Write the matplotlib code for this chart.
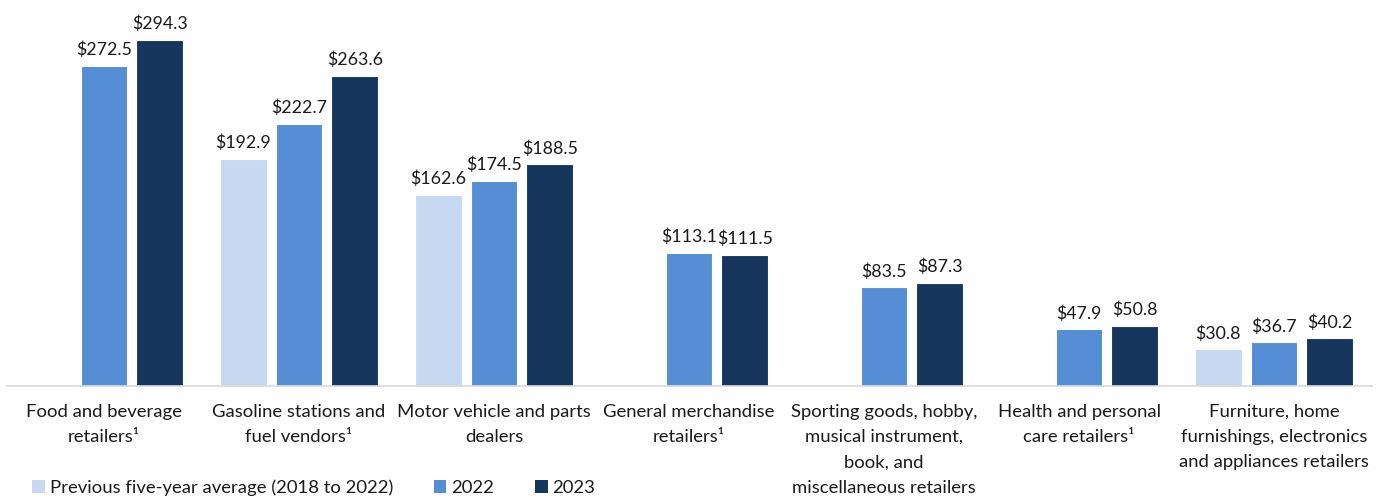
import numpy as np
import matplotlib
matplotlib.use("Agg")
import matplotlib.pyplot as plt
from matplotlib.patches import Patch

plt.rcParams['font.family'] = ['Lato', 'DejaVu Sans']

categories = [
    "Food and beverage\nretailers\u00b9",
    "Gasoline stations and\nfuel vendors\u00b9",
    "Motor vehicle and parts\ndealers",
    "General merchandise\nretailers\u00b9",
    "Sporting goods, hobby,\nmusical instrument,\nbook, and\nmiscellaneous retailers",
    "Health and personal\ncare retailers\u00b9",
    "Furniture, home\nfurnishings, electronics\nand appliances retailers",
]
prev_avg = [np.nan, 192.9, 162.6, np.nan, np.nan, np.nan, 30.8]
y2022 = [272.5, 222.7, 174.5, 113.1, 83.5, 47.9, 36.7]
y2023 = [294.3, 263.6, 188.5, 111.5, 87.3, 50.8, 40.2]
series_names = ["Previous five-year average (2018 to 2022)", "2022", "2023"]
colors = ["#c6d9f0", "#558ed5", "#17365d"]

fs = 13.3
fig = plt.figure(figsize=(13.79, 4.98), dpi=100)
ax = fig.add_axes([6.5 / 1379, (498 - 385.5) / 498, 1365 / 1379, 385.5 / 498])

x = np.arange(len(categories))
width = 0.241
step = 0.286
text_color = "#1a1a1a"
for i, (vals, col) in enumerate(zip([prev_avg, y2022, y2023], colors)):
    pos = x + (i - 1) * step
    v = np.array(vals, dtype=float)
    ax.bar(pos, np.nan_to_num(v), width=width, color=col, edgecolor="white", linewidth=0.8, zorder=2)
    for p, val in zip(pos, v):
        if not np.isnan(val):
            ax.annotate(f"${val:.1f}", xy=(p, val), xytext=(0, 5.5), textcoords="offset points",
                        ha="center", va="bottom", fontsize=12.8, color=text_color)

ax.set_xlim(-0.5, len(categories) - 0.5)
ax.set_ylim(0, 328.4)
ax.set_xticks(x)
ax.set_xticklabels(categories, fontsize=fs, color=text_color, linespacing=1.72)
ax.tick_params(axis='x', length=0, pad=13)
ax.set_yticks([])
for s in ["top", "right", "left"]:
    ax.spines[s].set_visible(False)
ax.spines["bottom"].set_color("#d9d9d9")
ax.spines["bottom"].set_linewidth(1.2)

handles = [Patch(facecolor=c, edgecolor="none") for c in colors]
fig.legend(handles, series_names, loc="center left", bbox_to_anchor=(32 / 1379, 1 - 488 / 498),
           ncol=3, frameon=False, fontsize=fs, handlelength=0.7, handleheight=0.7,
           handletextpad=0.25, columnspacing=2.2, borderaxespad=0, borderpad=0,
           labelcolor=text_color)

fig.savefig("out.png", dpi=100)
